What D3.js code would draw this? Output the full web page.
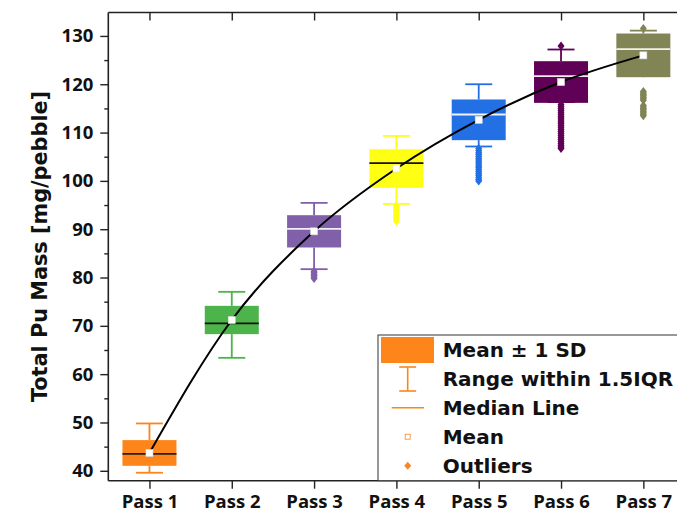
<!DOCTYPE html>
<html>
<head>
<meta charset="utf-8">
<script src="https://cdn.jsdelivr.net/npm/d3@7"></script>
<style>
  html, body { margin: 0; padding: 0; background: #fff; }
  svg { display: block; }
  text { font-family: "DejaVu Sans", sans-serif; font-weight: bold; fill: #111; }
</style>
</head>
<body>
<script>
// Pu mass per pebble after each pass through the core
const passes = ["Pass 1", "Pass 2", "Pass 3", "Pass 4", "Pass 5", "Pass 6", "Pass 7"];
const means = [43.69, 71.21, 89.56, 102.56, 112.64, 120.46, 125.98];
const sds = [2.66, 2.93, 3.34, 4.00, 4.21, 4.31, 4.52];
const medians = [43.52, 70.5, 90.07, 103.67, 113.74, 121.67, 127.25];
const whiskerLow = [39.6, 63.38, 81.73, 95.24, 107.12, 116.3, 121.7];
const whiskerHigh = [49.8, 77.04, 95.45, 109.3, 120.0, 127.19, 131.1];
const outliers = [
  [],
  [],
  [81.3, 81.0, 80.7, 80.4, 80.1, 79.8],
  [94.9, 94.5, 94.1, 93.7, 93.3, 92.9, 92.5, 92.1, 91.7],
  [106.7, 106.3, 105.9, 105.5, 105.1, 104.7, 104.3, 103.9, 103.5, 103.1, 102.7, 102.3,
   101.9, 101.5, 101.1, 100.7, 100.3, 100.0],
  [127.9, 115.8, 115.4, 115.0, 114.6, 114.2, 113.8, 113.4, 113.0, 112.6, 112.2, 111.8, 111.4,
   111.0, 110.6, 110.2, 109.8, 109.4, 109.0, 108.6, 108.2, 107.8, 107.4, 107.0, 106.7],
  [131.55, 118.5, 118.2, 117.9, 117.6, 117.3, 117.0, 116.7, 115.6, 115.3, 115.0, 114.7, 114.4,
   114.1, 113.8, 113.5]
];
const boxColors = ["#fd8519", "#4cb44a", "#8060a8", "#ffff14", "#2270e4", "#600056", "#818455"];
const medianColors = ["#222222", "#111111", "#f2f0f6", "#111111", "#eef3fc", "#f2e8f0", "#f3f3ee"];
const yMajorTicks = [40, 50, 60, 70, 80, 90, 100, 110, 120, 130];
const yMinorTicks = [45, 55, 65, 75, 85, 95, 105, 115, 125];
const legendLabels = ["Mean \u00b1 1 SD", "Range within 1.5IQR", "Median Line", "Mean", "Outliers"];
const yTitle = "Total Pu Mass [mg/pebble]";

const W = 677, H = 513;
const plot = { left: 108.3, right: 684.5, top: 12.5, bottom: 480.7 };

const svg = d3.select("body").append("svg").attr("width", W).attr("height", H);
svg.append("rect").attr("width", W).attr("height", H).attr("fill", "#fff");

const x = d3.scalePoint().domain(passes).range([plot.left, plot.right]).padding(0.5);
const y = d3.scaleLinear().domain([37.95, 134.85]).range([plot.bottom, plot.top]);

const boxW = 54, capW = 27;

// boxes: mean +/- 1 SD, whiskers, medians and outliers
const g = svg.append("g");
passes.forEach((p, i) => {
  const cx = x(p), col = boxColors[i];
  const top = y(means[i] + sds[i]), bot = y(means[i] - sds[i]);
  g.append("line").attr("x1", cx).attr("x2", cx).attr("y1", top).attr("y2", y(whiskerHigh[i]))
    .attr("stroke", col).attr("stroke-width", 1.8);
  g.append("line").attr("x1", cx).attr("x2", cx).attr("y1", bot).attr("y2", y(whiskerLow[i]))
    .attr("stroke", col).attr("stroke-width", 1.8);
  [whiskerHigh[i], whiskerLow[i]].forEach(v => {
    g.append("line").attr("x1", cx - capW / 2).attr("x2", cx + capW / 2)
      .attr("y1", y(v)).attr("y2", y(v)).attr("stroke", col).attr("stroke-width", 1.8);
  });
  g.append("rect").attr("x", cx - boxW / 2).attr("y", top)
    .attr("width", boxW).attr("height", bot - top).attr("fill", col);
  g.append("line").attr("x1", cx - boxW / 2).attr("x2", cx + boxW / 2)
    .attr("y1", y(medians[i])).attr("y2", y(medians[i]))
    .attr("stroke", medianColors[i]).attr("stroke-width", 1.8);
  outliers[i].forEach(v => {
    const py = y(v);
    g.append("path")
      .attr("d", `M${cx},${py - 4.5}L${cx + 3.5},${py}L${cx},${py + 4.5}L${cx - 3.5},${py}Z`)
      .attr("fill", col);
  });
});

// line through the means
const line = d3.line().x((d, i) => x(passes[i])).y(d => y(d)).curve(d3.curveMonotoneX);
svg.append("path").datum(means).attr("d", line)
  .attr("fill", "none").attr("stroke", "#000").attr("stroke-width", 2);

// mean markers
svg.selectAll(".mean").data(means).enter().append("rect")
  .attr("x", (d, i) => x(passes[i]) - 3.5).attr("y", d => y(d) - 3.5)
  .attr("width", 7).attr("height", 7)
  .attr("fill", "#fff").attr("stroke", "#ddd").attr("stroke-width", 0.6);

// axes
const axisCol = "#222";
const left = svg.append("g").attr("transform", `translate(${plot.left},0)`)
  .call(d3.axisLeft(y).tickValues(yMajorTicks).tickSize(8).tickPadding(7).tickFormat(d3.format("d")));
svg.append("g").attr("transform", `translate(${plot.left},0)`)
  .call(d3.axisLeft(y).tickValues(yMinorTicks).tickSize(4).tickFormat(""))
  .call(s => s.select(".domain").remove());
const right = svg.append("g").attr("transform", `translate(${plot.right},0)`)
  .call(d3.axisLeft(y).tickValues(yMajorTicks).tickSize(-8).tickFormat(""));
const bottom = svg.append("g").attr("transform", `translate(0,${plot.bottom})`)
  .call(d3.axisBottom(x).tickSize(8).tickPadding(6));
const topAx = svg.append("g").attr("transform", `translate(0,${plot.top})`)
  .call(d3.axisTop(x).tickSize(-8).tickFormat(""));

svg.selectAll(".domain").attr("stroke", axisCol).attr("stroke-width", 1.6);
svg.selectAll(".tick line").attr("stroke", axisCol).attr("stroke-width", 1.4);
svg.selectAll(".tick text").style("font-size", "18.5px").style("font-family", "'Open Sans', sans-serif")
  .style("font-weight", "bold").attr("fill", "#111");
left.select(".domain").attr("d", `M0,${plot.top}V${plot.bottom}`);
right.select(".domain").attr("d", `M0,${plot.top}V${plot.bottom}`);
bottom.select(".domain").attr("d", `M${plot.left},0H${plot.right}`);
topAx.select(".domain").attr("d", `M${plot.left},0H${plot.right}`);

// y axis title
svg.append("text")
  .attr("transform", `translate(46.5,246.5) rotate(-90)`)
  .attr("text-anchor", "middle")
  .style("font-size", "20.8px")
  .text(yTitle);

// legend
const lg = svg.append("g");
const lx = 378, ly = 335;
lg.append("rect").attr("x", lx).attr("y", ly).attr("width", plot.right - lx + 10)
  .attr("height", plot.bottom - ly).attr("fill", "#fff").attr("stroke", "#333").attr("stroke-width", 1);
const legCol = boxColors[0];
const rows = [350, 379, 408, 437, 466];
const sx = 407.7;
lg.append("rect").attr("x", 381).attr("y", 337).attr("width", 53).attr("height", 26).attr("fill", legCol);
lg.append("line").attr("x1", sx).attr("x2", sx).attr("y1", 367).attr("y2", 391).attr("stroke", legCol).attr("stroke-width", 1.6);
[367, 391].forEach(v => lg.append("line").attr("x1", sx - 8.5).attr("x2", sx + 8.5)
  .attr("y1", v).attr("y2", v).attr("stroke", legCol).attr("stroke-width", 1.6));
lg.append("line").attr("x1", 391.7).attr("x2", 424).attr("y1", 407.7).attr("y2", 407.7)
  .attr("stroke", legCol).attr("stroke-width", 1.6);
lg.append("rect").attr("x", sx - 2.5).attr("y", 436.7 - 2.5).attr("width", 5).attr("height", 5)
  .attr("fill", "#fff").attr("stroke", legCol).attr("stroke-width", 0.8);
lg.append("path").attr("d", `M${sx},${465.7 - 4}L${sx + 3.5},465.7L${sx},${465.7 + 4}L${sx - 3.5},465.7Z`)
  .attr("fill", legCol);
legendLabels.forEach((t, i) => {
  lg.append("text").attr("x", 442.7).attr("y", rows[i] + 7.3)
    .style("font-size", "20px").text(t);
});
</script>
</body>
</html>
